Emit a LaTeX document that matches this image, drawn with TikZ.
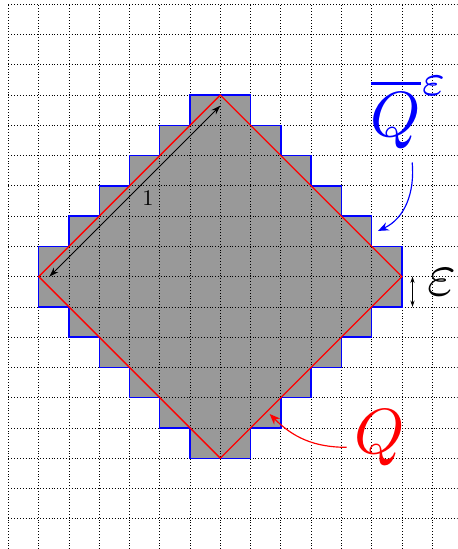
\documentclass[tikz,border=0pt]{standalone}
\usetikzlibrary{arrows.meta}
\begin{document}
\begin{tikzpicture}[
  gridline/.style={dotted, line width=0.7pt},
  stairfill/.style={fill=black!40},
  stairline/.style={draw=blue, line width=1.3pt, line join=miter},
  diam/.style={draw=red, line width=1.2pt},
  biglbl/.style={inner sep=0pt, scale=6, anchor=base west},
  dimarrow/.style={line width=0.9pt, {Stealth[length=9pt,width=6pt]}-{Stealth[length=9pt,width=6pt]}},
  epsarrow/.style={line width=0.8pt, {Stealth[length=6pt,width=4pt]}-{Stealth[length=6pt,width=4pt]}},
  curvearrow/.style={line width=1.1pt, -{Stealth[length=10pt,width=8pt]}},
]
\useasboundingbox (-7.28,-9.0) rectangle (7.84,9.14);
\clip (-7.28,-9.0) rectangle (7.84,9.14);
\def\stairpath{(-1,6) -- (1,6) -- (1,5) -- (2,5) -- (2,4) -- (3,4) -- (3,3) -- (4,3) -- (4,2) -- (5,2) -- (5,1) -- (6,1) -- (6,-1) -- (5,-1) -- (5,-2) -- (4,-2) -- (4,-3) -- (3,-3) -- (3,-4) -- (2,-4) -- (2,-5) -- (1,-5) -- (1,-6) -- (-1,-6) -- (-1,-5) -- (-2,-5) -- (-2,-4) -- (-3,-4) -- (-3,-3) -- (-4,-3) -- (-4,-2) -- (-5,-2) -- (-5,-1) -- (-6,-1) -- (-6,1) -- (-5,1) -- (-5,2) -- (-4,2) -- (-4,3) -- (-3,3) -- (-3,4) -- (-2,4) -- (-2,5) -- (-1,5) -- cycle}
\fill[stairfill] \stairpath;
\draw[gridline] (-7,-9) grid (7.84,9);
\draw[stairline] \stairpath;
% diamond
\coordinate (T) at (0,6);
\coordinate (R) at (6,0);
\coordinate (B) at (0,-6);
\coordinate (L) at (-6,0);
\draw[diam] (T) -- (R) -- (B) -- (L) -- cycle;
% side length arrow
\coordinate (u1) at (-5.65,0);
\coordinate (u2) at (0,5.65);
\draw[dimarrow] (u1) -- (u2);
\node[scale=2.1, inner sep=0pt] (one) at (-2.39,2.59) {$1$};
% epsilon arrow
\coordinate (e1) at (6.35,0);
\coordinate (e2) at (6.35,-1);
\draw[epsarrow] (e1) -- (e2);
\node[biglbl, scale=0.97] (eps) at (6.8,-0.64) {$\varepsilon$};
% labels
\node[biglbl, text=blue] (qbar) at (4.93,4.64) {$\overline{Q}^{\varepsilon}$};
\node[biglbl, text=red] (q) at (4.40,-5.86) {$Q$};
% curved arrows
\coordinate (qbs) at (6.34,3.77);
\coordinate (qbt) at (5.21,1.51);
\draw[curvearrow, blue] (qbs) to[out=-85, in=25] (qbt);
\coordinate (qs) at (4.17,-5.64);
\coordinate (qt) at (1.63,-4.54);
\draw[curvearrow, red] (qs) to[out=180, in=-45] (qt);
\end{tikzpicture}
\end{document}
